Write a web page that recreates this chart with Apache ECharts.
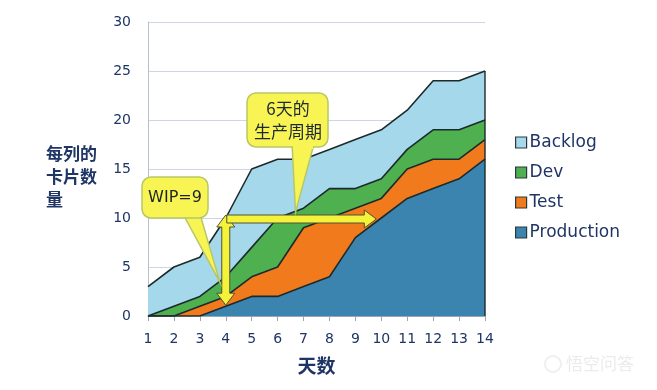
<!DOCTYPE html>
<html>
<head>
<meta charset="utf-8">
<script src="https://cdn.jsdelivr.net/npm/echarts@6/dist/echarts.min.js"></script>
<style>
html,body{margin:0;padding:0;background:#fff;}
#chart{width:657px;height:390px;}
</style>
</head>
<body>
<div id="chart"></div>
<script>
// ---- data ----
var days = ['1','2','3','4','5','6','7','8','9','10','11','12','13','14'];
var production = [0,0,0,1,2,2,3,4,8,10,12,13,14,16];
var test       = [0,0,1,1,2,3,6,6,3,2,3,3,2,2];
var dev        = [0,1,1,2,3,5,2,3,2,2,2,3,3,2];
var backlog    = [3,4,4,6,8,6,5,4,5,5,4,5,5,5];
var yTicks = [0,5,10,15,20,25,30];
var legendNames = ['Backlog','Dev','Test','Production'];
var wipText = 'WIP=9';
var cycleText = ['6天的','生产周期'];
var yTitle = ['每列的','卡片数','量'];
var xTitle = '天数';

var navy = '#1f3566';
var lineCol = '#1d2a2c';
var latin = '"DejaVu Sans", Verdana, sans-serif';
var cjk = '"Noto Sans CJK SC", sans-serif';

function areaSeries(name, data, color) {
  return {
    name: name, type: 'line', stack: 'total', data: data,
    symbol: 'none', smooth: false,
    lineStyle: {color: lineCol, width: 1.6},
    areaStyle: {color: color, opacity: 1},
    itemStyle: {color: color, borderColor: '#2a3a3c', borderWidth: 1},
    emphasis: {disabled: true}
  };
}

var chart = echarts.init(document.getElementById('chart'), null, {renderer: 'canvas'});
chart.setOption({
  animation: false,
  grid: {left: 148, right: 172, top: 22, bottom: 74},
  legend: {
    data: legendNames, orient: 'vertical', left: 510, top: 129,
    itemWidth: 11, itemHeight: 11, itemGap: 13, icon: 'rect',
    textStyle: {fontFamily: latin, fontSize: 17, color: navy, padding: [0,0,0,-2]},
    itemStyle: {borderColor: '#2a3a3c', borderWidth: 1.2}
  },
  xAxis: {
    type: 'category', data: days, boundaryGap: false,
    name: xTitle, nameLocation: 'middle', nameGap: 40,
    nameTextStyle: {fontFamily: cjk, fontSize: 19, fontWeight: 'bold', color: navy},
    axisLine: {lineStyle: {color: '#9aa6b4', width: 1}},
    axisTick: {show: true, length: 5, lineStyle: {color: '#9aa6b4'}},
    axisLabel: {fontFamily: latin, fontSize: 14, color: navy, margin: 16},
    splitLine: {show: false}
  },
  yAxis: {
    type: 'value', min: 0, max: 30, interval: 5,
    axisLine: {show: true, lineStyle: {color: '#b6c0cc', width: 1}},
    axisTick: {show: false},
    axisLabel: {fontFamily: latin, fontSize: 14, color: navy, margin: 17,
      formatter: function (v) { return yTicks.indexOf(v) >= 0 ? String(v) : ''; }},
    splitLine: {lineStyle: {color: '#cdd6e2', width: 1}}
  },
  series: [
    areaSeries('Production', production, '#3b84b0'),
    areaSeries('Test', test, '#f07a1c'),
    areaSeries('Dev', dev, '#4fb04f'),
    areaSeries('Backlog', backlog, '#a5d8eb')
  ]
});

function px(i, v) { return chart.convertToPixel({gridIndex: 0}, [i, v]); }

// totals for annotation anchors
var total = days.map(function (d, i) { return production[i] + test[i] + dev[i] + backlog[i]; });

var yellow = '#f5f23a';
var boxFill = '#f8f453';
var boxStroke = '#b7c766';
var arrowStroke = '#4e5238';

var g = [];
// right edge vertical line of stacked area
var rb = px(13, 0), rt = px(13, total[13]);
g.push({type: 'line', shape: {x1: rb[0], y1: rb[1], x2: rt[0], y2: rt[1]}, style: {stroke: lineCol, lineWidth: 1.4}, z: 10});

// vertical double arrow (WIP) at day 4 from production level to total level
var vB = px(3, production[3]), vT = px(3, total[3]);
var x = vB[0], yb = vB[1] - 1, yt = vT[1] - 3;
var sw = 4, hw = 9, hl = 12;
g.push({type: 'polygon', z: 20, shape: {points: [
  [x, yt], [x + hw, yt + hl], [x + sw, yt + hl], [x + sw, yb - hl], [x + hw, yb - hl], [x, yb],
  [x - hw, yb - hl], [x - sw, yb - hl], [x - sw, yt + hl], [x - hw, yt + hl]
]}, style: {fill: yellow, stroke: arrowStroke, lineWidth: 1}});

// horizontal arrow (cycle time) at level 10 from day 4 to day 10
var hS = px(3, total[3]), hE = px(9, production[9]);
var x0 = hS[0] + 1, x1 = hE[0] - 5, yy = hS[1] + 1;
g.push({type: 'polygon', z: 21, shape: {points: [
  [x0, yy - sw], [x1 - hl, yy - sw], [x1 - hl, yy - hw], [x1, yy], [x1 - hl, yy + hw], [x1 - hl, yy + sw], [x0, yy + sw]
]}, style: {fill: yellow, stroke: arrowStroke, lineWidth: 1}});

// callout: WIP=9
var tip1 = px(3, 4.5);
tip1 = [tip1[0] - 6, tip1[1] + 10];
g.push({type: 'polygon', z: 30, shape: {points: [[183, 214], [200, 214], [tip1[0], tip1[1]]]},
  style: {fill: boxFill, stroke: boxStroke, lineWidth: 1.5}});
g.push({type: 'rect', z: 31, shape: {x: 142, y: 177, width: 66, height: 41, r: 9},
  style: {fill: boxFill, stroke: boxStroke, lineWidth: 1.5}});
g.push({type: 'rect', z: 32, shape: {x: 184, y: 211, width: 15, height: 6},
  style: {fill: boxFill, stroke: null}});
g.push({type: 'text', z: 33, style: {x: 175, y: 198, text: wipText, fill: '#1d2323',
  font: '16px ' + latin, textAlign: 'center', textVerticalAlign: 'middle'}});

// callout: 6天的 生产周期
var tip2 = px(6, 10.6);
tip2 = [tip2[0] - 8, tip2[1]];
g.push({type: 'polygon', z: 30, shape: {points: [[292, 144], [314, 144], [tip2[0], tip2[1]]]},
  style: {fill: boxFill, stroke: boxStroke, lineWidth: 1.5}});
g.push({type: 'rect', z: 31, shape: {x: 247, y: 93, width: 81, height: 54, r: 9},
  style: {fill: boxFill, stroke: boxStroke, lineWidth: 1.5}});
g.push({type: 'rect', z: 32, shape: {x: 293, y: 141, width: 20, height: 8},
  style: {fill: boxFill, stroke: null}});
g.push({type: 'text', z: 33, style: {x: 288, y: 109, text: cycleText[0], fill: '#1d2a33',
  font: '17px ' + cjk, textAlign: 'center', textVerticalAlign: 'middle'}});
g.push({type: 'text', z: 33, style: {x: 288, y: 132, text: cycleText[1], fill: '#1d2a33',
  font: '17px ' + cjk, textAlign: 'center', textVerticalAlign: 'middle'}});

// y-axis title
yTitle.forEach(function (t, i) {
  g.push({type: 'text', z: 5, style: {x: 46, y: 154 + i * 23, text: t, fill: navy,
    font: 'bold 17px ' + cjk, textAlign: 'left', textVerticalAlign: 'middle'}});
});

// watermark
g.push({type: 'circle', z: 1, shape: {cx: 553, cy: 364, r: 8}, style: {fill: null, stroke: '#efefef', lineWidth: 2}});
g.push({type: 'text', z: 1, style: {x: 566, y: 364, text: '悟空问答', fill: '#ebebeb',
  font: '17px ' + cjk, textAlign: 'left', textVerticalAlign: 'middle'}});

chart.setOption({graphic: g});
</script>
</body>
</html>
